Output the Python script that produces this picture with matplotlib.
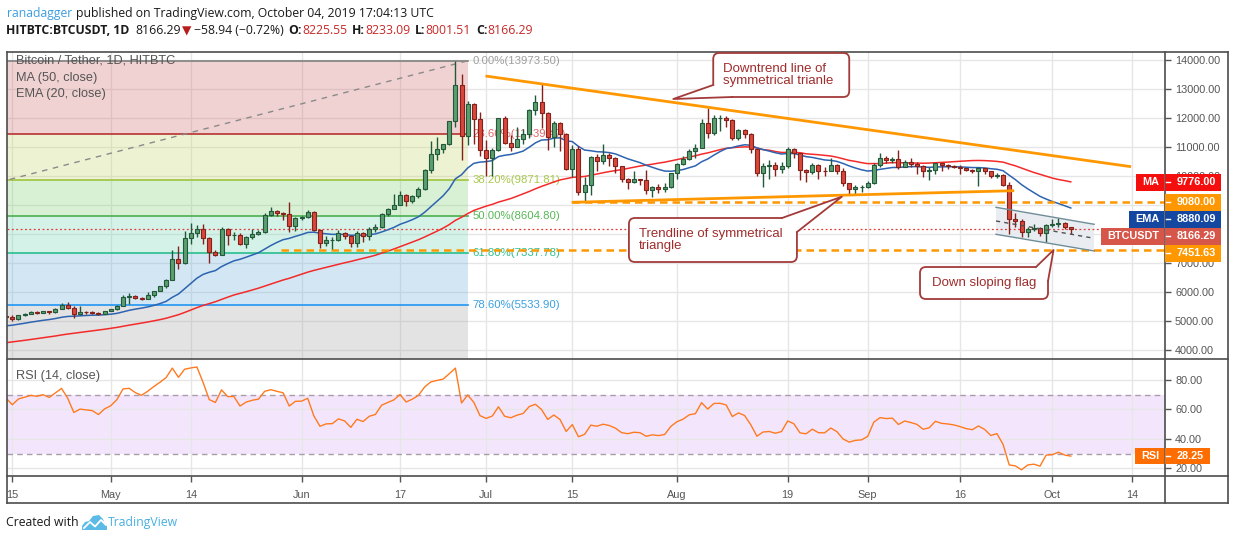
import numpy as np
import matplotlib
matplotlib.use("Agg")
import matplotlib.pyplot as plt
import matplotlib.dates as mdates
from matplotlib.patches import Rectangle, FancyBboxPatch, Polygon
from matplotlib.lines import Line2D
from matplotlib.transforms import IdentityTransform

W, H = 1234, 540

# ---------------- data (HITBTC BTC/USDT daily, Apr 14 - Oct 4 2019) ----------------
first_day = "2019-04-14"

opens = [
    5160,
    5130, 5040, 5190, 5240, 5290, 5280, 5320, 5290, 5400, 5530,
    5420, 5230, 5300, 5290, 5280, 5230, 5330, 5390, 5520, 5820,
    5840, 5790, 5760, 5870, 6020, 6180, 6400, 7140, 6990, 7840,
    8030, 8180, 7840, 7370, 7280, 8180, 7950, 7960, 7630, 7880,
    8000, 8070, 8640, 8780, 8730, 8690, 8280, 8560, 8570, 8740,
    8140, 7680, 7790, 7800, 8010, 7930, 7670, 8010, 7920, 8150,
    8230, 8690, 8850, 9000, 9350, 9120, 9290, 9540, 10210, 10750,
    10930, 11090, 11880, 13150, 11380, 12480, 11960, 10880, 10630, 10880,
    11980, 11140, 11000, 11280, 11460, 12270, 12560, 12170, 11350, 11810,
    11430, 10240, 10910, 9450, 9680, 10640, 10520, 10730, 10600, 10340,
    9880, 9770, 9880, 9840, 9520, 9610, 9550, 9610, 10090, 10400,
    10570, 10870, 10950, 11830, 11490, 11980, 12000, 11920, 11320, 11580,
    11440, 10910, 10090, 10340, 10370, 10250, 10340, 10940, 10780, 10200,
    10140, 10380, 10160, 10150, 10380, 10180, 9740, 9530, 9600, 9620,
    9750, 10370, 10600, 10560, 10580, 10320, 10470, 10410, 10340, 10150,
    10200, 10430, 10360, 10340, 10310, 10260, 10200, 10170, 10260, 10170,
    10000, 10040, 9700, 8520, 8440, 8060, 8180, 8200, 8040, 8310,
    8320, 8380, 8225.55,
]
highs = [
    5190,
    5190, 5200, 5260, 5320, 5340, 5350, 5330, 5440, 5620, 5640,
    5490, 5500, 5330, 5320, 5310, 5340, 5410, 5530, 5880, 5950,
    5870, 5830, 5980, 6030, 6200, 6450, 7450, 7580, 8080, 8370,
    8300, 8320, 7900, 7450, 8250, 8200, 8050, 8030, 7930, 8150,
    8130, 8700, 8930, 8820, 8760, 9090, 8580, 8620, 8810, 8770,
    8160, 7920, 7880, 8130, 8050, 7960, 8080, 8050, 8230, 8330,
    8720, 8880, 9370, 9480, 9370, 9330, 9600, 10230, 11200, 11350,
    11100, 11900, 13973.5, 13500, 12600, 12530, 12200, 11250, 10950, 12000,
    12050, 11400, 11700, 11600, 12300, 12800, 13200, 12200, 11900, 11850,
    11480, 11050, 11020, 9950, 10700, 10750, 11100, 10800, 10650, 10350,
    9930, 10180, 9900, 10190, 9640, 9720, 9750, 10100, 10450, 10680,
    10920, 11090, 11950, 12330, 12100, 12100, 12050, 11960, 11600, 11600,
    11480, 10940, 10450, 10540, 10470, 10470, 10980, 10950, 10800, 10250,
    10450, 10420, 10300, 10600, 10400, 10280, 9750, 9680, 9680, 9810,
    10450, 10800, 10700, 10640, 10900, 10550, 10600, 10480, 10380, 10300,
    10450, 10450, 10420, 10380, 10360, 10280, 10250, 10320, 10280, 10180,
    10100, 10060, 9780, 8720, 8500, 8250, 8330, 8220, 8330, 8500,
    8550, 8400, 8233.09,
]
lows = [
    5080,
    5000, 5030, 5170, 5230, 5220, 5270, 5230, 5270, 5390, 5400,
    5100, 5180, 5240, 5240, 5180, 5220, 5320, 5380, 5510, 5590,
    5760, 5710, 5750, 5820, 6010, 6140, 6400, 6800, 6950, 7640,
    7880, 7650, 6980, 7240, 7250, 7600, 7800, 7600, 7520, 7820,
    7960, 8030, 8620, 8600, 8460, 8070, 8110, 8480, 8540, 8110,
    7500, 7570, 7470, 7760, 7830, 7540, 7550, 7700, 7800, 8070,
    8200, 8630, 8840, 8980, 8970, 9050, 9250, 9520, 10100, 10560,
    10780, 11050, 11700, 10540, 11060, 11100, 10700, 10000, 10000, 10850,
    11100, 10850, 10980, 11100, 11300, 12100, 11650, 10900, 11000, 10850,
    10200, 9950, 9350, 9100, 9330, 10150, 10420, 10330, 10100, 9800,
    9560, 9750, 9680, 9380, 9280, 9420, 9450, 9590, 9900, 10360,
    10550, 10600, 10950, 11300, 11400, 11550, 11700, 11250, 11250, 11300,
    10800, 10000, 9600, 9900, 9980, 10100, 10260, 10600, 9850, 9800,
    10050, 9900, 10000, 10150, 10080, 9640, 9330, 9380, 9450, 9590,
    9730, 10300, 10450, 10450, 10250, 10300, 10300, 10080, 9950, 9870,
    10050, 10150, 10250, 10260, 10080, 10150, 10100, 9650, 10080, 9940,
    9930, 9640, 8000, 8250, 7880, 7900, 8100, 7930, 7720, 8220,
    8240, 8150, 8001.51,
]
closes = [
    5130,
    5040, 5190, 5240, 5290, 5280, 5320, 5290, 5400, 5530, 5420,
    5230, 5300, 5290, 5280, 5230, 5330, 5390, 5520, 5820, 5840,
    5790, 5760, 5870, 6020, 6180, 6400, 7140, 6990, 7840, 8030,
    8180, 7840, 7370, 7280, 8180, 7950, 7960, 7630, 7880, 8000,
    8070, 8640, 8780, 8730, 8690, 8280, 8560, 8570, 8740, 8140,
    7680, 7790, 7800, 8010, 7930, 7670, 8010, 7920, 8150, 8230,
    8690, 8850, 9000, 9350, 9120, 9290, 9540, 10210, 10750, 10930,
    11090, 11880, 13150, 11380, 12480, 11960, 10880, 10630, 10880, 11980,
    11140, 11000, 11280, 11460, 12270, 12560, 12170, 11350, 11810, 11430,
    10240, 10910, 9450, 9680, 10640, 10520, 10730, 10600, 10340, 9880,
    9770, 9880, 9840, 9520, 9610, 9550, 9610, 10090, 10400, 10570,
    10870, 10950, 11830, 11490, 11980, 12000, 11920, 11320, 11580, 11440,
    10910, 10090, 10340, 10370, 10250, 10340, 10940, 10780, 10200, 10140,
    10380, 10160, 10150, 10380, 10180, 9740, 9530, 9600, 9620, 9750,
    10370, 10600, 10560, 10580, 10320, 10470, 10410, 10340, 10150, 10200,
    10430, 10360, 10340, 10310, 10260, 10200, 10170, 10260, 10170, 10000,
    10040, 9700, 8520, 8440, 8060, 8180, 8200, 8040, 8310, 8320,
    8380, 8225.55, 8166.29,
]
# closes Feb 24 - Apr 13, only used to warm up MA / EMA / RSI
warmup_closes = [
    3740, 3840, 3820, 3830, 3820,
    3830, 3830, 3800, 3720, 3860, 3870, 3880, 3860, 3940, 3920,
    3860, 3880, 3870, 3870, 3920, 4020, 3980, 3990, 4030, 4070,
    3990, 4000, 4010, 4000, 3920, 3940, 4080, 4070, 4170, 4140, 4140,
    4170, 4880, 4970, 4910, 5040, 5060, 5200, 5280, 5190, 5330, 5020, 5080, 5160,
]

# values shown on the price-scale tags
ma_last = 9776.00
ema_last = 8880.09
rsi_last = 28.25
resistance = 9080.00
support = 7451.63

# fibonacci retracement drawn from the Dec 2018 low to the June 2019 high
fib_low, fib_high = 3236.09, 13973.5
fib_start, fib_end = "2018-12-15", "2019-06-28"
fib_ratios = [0.0, 0.236, 0.382, 0.5, 0.618, 0.786, 1.0]
fib_line_colors = ["#808080", "#b83232", "#9fc43c", "#4caf50", "#29bf8e", "#2196f3", "#808080"]
fib_text_colors = ["#9e9e9e", "#e06464", "#a9c84c", "#57b857", "#2cc08e", "#3aa0e0"]
fib_fill_colors = ["#c94f4f", "#b7cf4f", "#67cb5b", "#5bcfab", "#4fa3d3", "#939393"]

# author's drawings: (days after Apr 15, price)
downtrend = [(76.9, 13447), (181.8, 10316)]
support_trend = [(90.9, 9086), (162.8, 9487)]
resistance_from = 90.9
support_from = 43.7
flag_upper = [(159.85, 8914), (175.8, 8327)]
flag_lower = [(159.85, 7981), (175.8, 7405)]
flag_mid = [(159.85, 8441), (175.8, 7843)]

callouts = [
    dict(text="Downtrend line of\nsymmetrical trianle", box=(113.9, 136.0, 14242, 12722),
         tip=(107.4, 12653), base=[(113.9, 13137), (116.95, 12722)], ha="left"),
    dict(text="Trendline of symmetrical\ntriangle", box=(100.2, 127.5, 8544, 7025),
         tip=(134.8, 9280), base=[(125.07, 8544), (127.51, 8061)], ha="left"),
    dict(text="Down sloping flag", box=(147.5, 168.3, 6852, 5747),
         tip=(169.2, 7439), base=[(166.35, 6852), (168.3, 6369)], ha="center"),
]

tick_dates = ["2019-04-15", "2019-05-01", "2019-05-14", "2019-06-01", "2019-06-17", "2019-07-01",
              "2019-07-15", "2019-08-01", "2019-08-19", "2019-09-01", "2019-09-16", "2019-10-01",
              "2019-10-14"]
tick_labels = ["15", "May", "14", "Jun", "17", "Jul", "15", "Aug", "19", "Sep", "16", "Oct", "14"]
price_ticks = [4000, 5000, 6000, 7000, 8000, 9000, 10000, 11000, 12000, 13000, 14000]
rsi_ticks = [20, 40, 60, 80]

# ---------------- indicators ----------------
all_c = np.array(warmup_closes + closes, dtype=float)
n_warm = len(warmup_closes)
ma50 = np.convolve(all_c, np.ones(50) / 50, mode="valid")[n_warm - 49:]

ema = np.zeros_like(all_c)
ema[19] = all_c[:20].mean()
for i in range(20, len(all_c)):
    ema[i] = ema[i - 1] + (all_c[i] - ema[i - 1]) * 2 / 21
ema20 = ema[n_warm:]

diff = np.diff(all_c)
up = np.clip(diff, 0, None)
dn = np.clip(-diff, 0, None)
au = np.zeros_like(diff)
ad = np.zeros_like(diff)
au[13] = up[:14].mean()
ad[13] = dn[:14].mean()
for i in range(14, len(diff)):
    au[i] = (au[i - 1] * 13 + up[i]) / 14
    ad[i] = (ad[i - 1] * 13 + dn[i]) / 14
rsi14 = (100 - 100 / (1 + au / ad))[n_warm - 1:]

# ---------------- figure ----------------
plt.rcParams["font.family"] = ["Liberation Sans", "DejaVu Sans"]
fig = plt.figure(figsize=(W / 100, H / 100), dpi=100)
fig.patch.set_facecolor("white")

def rect_px(x0, y0, x1, y1):
    return [x0 / W, 1 - y1 / H, (x1 - x0) / W, (y1 - y0) / H]

ax = fig.add_axes(rect_px(6.7, 52, 1165.3, 359.3))
ax2 = fig.add_axes(rect_px(6.7, 359.3, 1165.3, 476), sharex=ax)

dates = np.arange(np.datetime64(first_day), np.datetime64(first_day) + len(closes))
x = mdates.date2num(dates)
day0 = mdates.date2num(np.datetime64("2019-04-15"))

def dx(offset):
    return day0 + offset

ax.set_xlim(dx(-0.91), dx(187.36))
ax.set_ylim(3665, 14276)
ax2.set_ylim(14.77, 94.07)

grid_c = "#e6e6e6"
for a in (ax, ax2):
    for s in a.spines.values():
        s.set_visible(False)
    a.set_axisbelow(True)
    a.set_xticks(mdates.date2num(np.array(tick_dates, dtype="datetime64[D]")))
    a.grid(True, color=grid_c, lw=1)
    a.yaxis.tick_right()
    a.tick_params(axis="y", length=4, width=1, color="#555555", labelcolor="#555555",
                  labelsize=7.8, pad=3)
ax.set_yticks(price_ticks)
ax2.set_yticks(rsi_ticks)
ax2.set_yticklabels([f"{r:.2f}" for r in rsi_ticks])
ax.tick_params(axis="x", length=0, labelbottom=False)
ax2.set_xticklabels(tick_labels)
ax2.tick_params(axis="x", length=4, width=1, color="#555555", labelcolor="#555555",
                labelsize=7.8, pad=6)

# fibonacci zones
fx0 = mdates.date2num(np.datetime64(fib_start))
fx1 = mdates.date2num(np.datetime64(fib_end))
levels = [fib_high - r * (fib_high - fib_low) for r in fib_ratios]
for i in range(len(levels) - 1):
    ax.fill_between([fx0, fx1], levels[i], levels[i + 1], color=fib_fill_colors[i],
                    alpha=0.25, lw=0, zorder=1)
for i, (r, lv) in enumerate(zip(fib_ratios, levels)):
    ax.plot([fx0, fx1], [lv, lv], color=fib_line_colors[i], lw=1.2, zorder=1.5)
    if i < len(fib_text_colors):
        ax.text(fx1 + 0.75, lv, f"{r * 100:.2f}%({lv:.2f})", color=fib_text_colors[i],
                fontsize=8.2, va="center", ha="left", zorder=1.6)
ax.plot([fx0, fx1], [fib_low, fib_high], color="#8a8a8a", lw=1, ls=(0, (4, 4)), zorder=1.6)

# flag channel fill
fpoly = [(dx(flag_upper[0][0]), flag_upper[0][1]), (dx(flag_upper[1][0]), flag_upper[1][1]),
         (dx(flag_lower[1][0]), flag_lower[1][1]), (dx(flag_lower[0][0]), flag_lower[0][1])]
ax.add_patch(Polygon(fpoly, closed=True, fc="#e6eaef", ec="none", alpha=0.85, zorder=1.8))

# last price dotted line
ax.axhline(closes[-1], color="#e53935", lw=0.9, ls=(0, (1.5, 2)), zorder=2)

# moving averages
ax.plot(x, ma50, color="#f42a2a", lw=1.1, zorder=2.5)
ax.plot(x, ema20, color="#2d63b0", lw=1.1, zorder=2.5)

# dashed levels
xr = dx(187.36)
ax.plot([dx(resistance_from), xr], [resistance, resistance], color="#ff9800", lw=1.8,
        ls=(0, (3, 2)), zorder=2.6)
ax.plot([dx(support_from), xr], [support, support], color="#ff9800", lw=1.8,
        ls=(0, (3, 2)), zorder=2.6)

# candles
o = np.array(opens)
h = np.array(highs)
l = np.array(lows)
c = np.array(closes)
rising = c >= o
fill = np.where(rising, "#5c9e6f", "#d9473b")
edge = np.where(rising, "#22593a", "#84211a")
ax.vlines(x, l, h, colors=edge, lw=1, zorder=3)
ax.bar(x, np.abs(c - o), bottom=np.minimum(o, c), width=0.66, color=fill,
       edgecolor=edge, linewidth=0.8, zorder=4)

# trendlines
for seg in (downtrend, support_trend):
    ax.plot([dx(seg[0][0]), dx(seg[1][0])], [seg[0][1], seg[1][1]], color="#ff9800",
            lw=2, zorder=5, solid_capstyle="butt")
for seg in (flag_upper, flag_lower):
    ax.plot([dx(seg[0][0]), dx(seg[1][0])], [seg[0][1], seg[1][1]], color="#6f8d98",
            lw=1, zorder=5)
ax.plot([dx(flag_mid[0][0]), dx(flag_mid[1][0])], [flag_mid[0][1], flag_mid[1][1]],
        color="#505050", lw=1, ls=(0, (3, 3)), zorder=5)

# RSI panel
ax2.axhspan(30, 70, color="#f3e6fc", lw=0, zorder=0.5)
for lv in (30, 70):
    ax2.axhline(lv, color="#a99dab", lw=1, ls=(0, (4, 3)), zorder=1)
ax2.plot(x, rsi14, color="#ff7a1f", lw=1, zorder=2)

# ---------------- helpers in pixel space ----------------
def ftext(px, py, s, **kw):
    return fig.text(px / W, 1 - py / H, s, **kw)

def to_px(a, xv, yv):
    dxp, dyp = a.transData.transform((xv, yv))
    return dxp, H - dyp

renderer = fig.canvas.get_renderer()

def seq(px, py, parts, size, family):
    for s, col, wt, gap in parts:
        t = ftext(px, py, s, color=col, fontsize=size, fontweight=wt, family=family,
                  va="center", ha="left")
        px += t.get_window_extent(renderer).width + gap

hdr_font = ["Open Sans", "DejaVu Sans"]
seq(6.5, 13, [("ranadagger", "#3d9ee0", "normal", 4),
              ("published on TradingView.com, October 04, 2019 17:04:13 UTC", "#1a1a1a", "normal", 0)],
    8.8, hdr_font)
red = "#c62828"
seq(6.5, 31, [("HITBTC:BTCUSDT, 1D", "#1a1a1a", "bold", 5),
              ("8166.29", "#1a1a1a", "normal", 2), ("▼", "#b71c1c", "normal", 2),
              ("−58.94 (−0.72%)", "#1a1a1a", "normal", 5),
              ("O:", "#1a1a1a", "bold", 0), (f"{opens[-1]:.2f}", red, "normal", 5),
              ("H:", "#1a1a1a", "bold", 0), (f"{highs[-1]:.2f}", red, "normal", 5),
              ("L:", "#1a1a1a", "bold", 0), (f"{lows[-1]:.2f}", red, "normal", 5),
              ("C:", "#1a1a1a", "bold", 0), (f"{closes[-1]:.2f}", red, "normal", 0)],
    8.8, hdr_font)

# legends inside panels
ftext(15.7, 60.7, "Bitcoin / Tether, 1D, HITBTC", color="#555555", fontsize=9.2, va="center")
ftext(15.7, 77.7, "MA (50, close)", color="#555555", fontsize=9.2, va="center")
ftext(15.7, 94.3, "EMA (20, close)", color="#555555", fontsize=9.2, va="center")
ftext(15.7, 376, "RSI (14, close)", color="#555555", fontsize=9.2, va="center")

# frame
frame_c = "#4d4d4d"
for (a0, b0), (a1, b1) in [((6.7, 52), (1227.7, 52)), ((6.7, 503.3), (1227.7, 503.3)),
                           ((6.7, 52), (6.7, 503.3)), ((1227.7, 52), (1227.7, 503.3)),
                           ((1165.3, 52), (1165.3, 503.3)), ((6.7, 359.3), (1227.7, 359.3)),
                           ((6.7, 476), (1227.7, 476))]:
    fig.add_artist(Line2D([a0 / W, a1 / W], [1 - b0 / H, 1 - b1 / H], color=frame_c, lw=1.2,
                          transform=fig.transFigure, zorder=8))

# price-scale tags
def tag(yc, value_txt, col, name=None, x1=1221.0):
    hgt = 16.4
    fig.add_artist(Rectangle((1165.3 / W, 1 - (yc + hgt / 2) / H), (x1 - 1165.3) / W, hgt / H,
                             transform=fig.transFigure, fc=col, ec="none", zorder=9))
    fig.add_artist(Line2D([1166 / W, 1169.5 / W], [1 - yc / H] * 2, color="white", lw=1,
                          transform=fig.transFigure, zorder=9.5))
    ftext((1171 + x1) / 2, yc, value_txt, color="white", fontsize=7.8, fontweight="bold",
          ha="center", va="center", zorder=10)
    if name:
        t = ftext(1159, yc, name, color="white", fontsize=7.8, fontweight="bold", ha="right",
                  va="center", zorder=10)
        wdt = t.get_window_extent(renderer).width + 11
        fig.add_artist(Rectangle(((1164.3 - wdt) / W, 1 - (yc + hgt / 2) / H), wdt / W,
                                 hgt / H, transform=fig.transFigure, fc=col, ec="none",
                                 zorder=9))

tags = [(ma_last, "MA", "#f40e0e"), (resistance, None, "#ff9800"),
        (ema_last, "EMA", "#1447a0"), (closes[-1], "BTCUSDT", "#d6574a"),
        (support, None, "#ff9800")]
ys = [to_px(ax, x[-1], v)[1] for v, _, _ in tags]
order = np.argsort(ys)
prev = None
for k in order:
    y = ys[k]
    if prev is not None and y < prev + 17:
        y = prev + 17
    ys[k] = y
    prev = y
for (v, name, col), y in zip(tags, ys):
    tag(y, f"{v:.2f}", col, name)
tag(to_px(ax2, x[-1], rsi_last)[1], f"{rsi_last:.2f}", "#ff6d00", "RSI", x1=1210)

# price labels that sit right under a tag are hidden, as on the reference
hidden = [p for p in price_ticks
          if min(abs(to_px(ax, x[-1], p)[1] - y) for y in ys) < 4]
ax.set_yticklabels(["" if p in hidden else f"{p:.2f}" for p in price_ticks])

# callouts
co_edge = "#a33a3a"
for cd in callouts:
    d0, d1, p0, p1 = cd["box"]
    X0, Y0 = ax.transData.transform((dx(d0), p1))
    X1, Y1 = ax.transData.transform((dx(d1), p0))
    box = FancyBboxPatch((X0, Y0), X1 - X0, Y1 - Y0, boxstyle="round,pad=0,rounding_size=6",
                         transform=IdentityTransform(), fc="white", ec=co_edge, lw=1.3,
                         zorder=11)
    fig.add_artist(box)
    tip = ax.transData.transform((dx(cd["tip"][0]), cd["tip"][1]))
    b1 = ax.transData.transform((dx(cd["base"][0][0]), cd["base"][0][1]))
    b2 = ax.transData.transform((dx(cd["base"][1][0]), cd["base"][1][1]))
    fig.add_artist(Polygon([b1, tip, b2], closed=True, transform=IdentityTransform(),
                           fc="white", ec="none", zorder=11.5))
    fig.add_artist(Line2D([b1[0], tip[0], b2[0]], [b1[1], tip[1], b2[1]],
                          transform=IdentityTransform(), color=co_edge, lw=1.3, zorder=12))
    if cd["ha"] == "left":
        tx = X0 + 10
    else:
        tx = (X0 + X1) / 2
    fig.text(tx / W, (Y0 + Y1) / 2 / H, cd["text"], color="#a02c2c", fontsize=9.5,
             ha=cd["ha"], va="center", linespacing=1.0, zorder=13)

# footer
seq(6.5, 522.7, [("Created with", "#1a1a1a", "normal", 0)], 8.8, hdr_font)
logo = [(82, 530), (82, 526), (85, 522), (89, 521), (93, 516), (99, 515), (103, 519),
        (104, 522), (107, 525), (107, 530)]
fig.add_artist(Polygon([(p / W, 1 - q / H) for p, q in logo], closed=True,
                       transform=fig.transFigure, fc="#5bbbe6", ec="none", zorder=5))
zig = [(84, 528), (90, 522), (95, 526.5), (101, 520), (106, 525)]
fig.add_artist(Line2D([p / W for p, q in zig], [1 - q / H for p, q in zig], color="white",
                      lw=1.3, transform=fig.transFigure, zorder=6))
seq(107.5, 522.7, [("TradingView", "#48b0e0", "normal", 0)], 8.8, hdr_font)

fig.savefig("out.png", dpi=100)
